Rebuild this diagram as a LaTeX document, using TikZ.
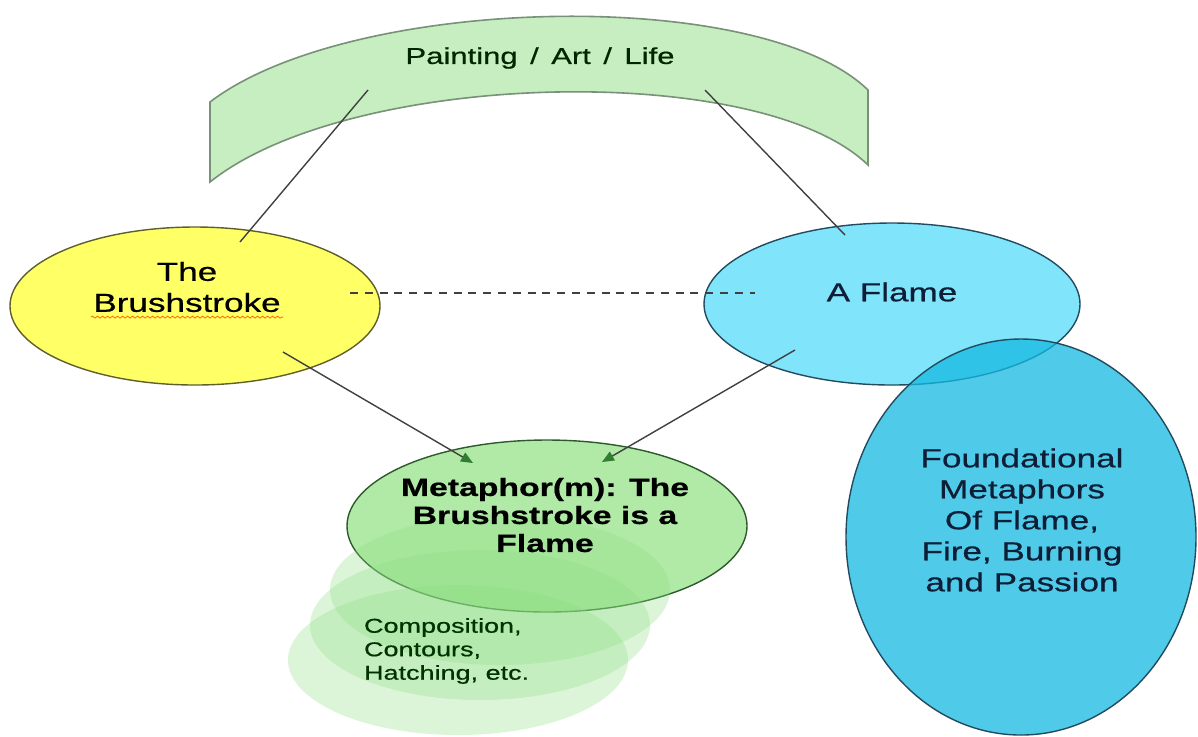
\documentclass[tikz,border=0pt]{standalone}
\usepackage{fontspec}
\setmainfont[FakeStretch=1.35,FakeBold=0.6]{Liberation Sans}
\usetikzlibrary{shapes.geometric,calc,positioning,arrows.meta,decorations.pathmorphing}

\definecolor{bandgreen}{RGB}{198,238,192}
\definecolor{bandedge}{RGB}{120,145,120}
\definecolor{brushyellow}{RGB}{255,255,102}
\definecolor{yellowedge}{RGB}{95,95,45}
\definecolor{flameblue}{RGB}{128,228,250}
\definecolor{deepblue}{RGB}{20,185,225}
\definecolor{blueedge}{RGB}{35,75,95}
\definecolor{metagreen}{RGB}{176,234,166}
\definecolor{fadegreen}{RGB}{140,222,130}
\definecolor{greenedge}{RGB}{45,90,45}
\definecolor{tipgreen}{RGB}{50,125,50}
\definecolor{navytext}{RGB}{15,30,55}

\begin{document}
\begin{tikzpicture}[x=0.5pt,y=-0.5pt,
    blob/.style={ellipse, draw, inner sep=0pt, line width=0.7pt},
    txt/.style={align=center, font=\fontsize{13}{15.5}\selectfont},
    link/.style={draw=black!75, line width=0.7pt},
    arr/.style={link, -{Triangle[length=6pt,width=5pt,color=tipgreen]}},
    dashlink/.style={draw=black!75, line width=1.4pt, dash pattern=on 4pt off 3.4pt}]
      \useasboundingbox (0,0) rectangle (1198,736);

      % Band on top
      \draw[fill=bandgreen, draw=bandedge, line width=0.8pt]
        (210,102) .. controls (350,-5) and (760,-15) .. (868,90)
        -- (868,165) .. controls (760,60) and (350,70) .. (210,182) -- cycle;
      \node[txt, font=\fontsize{11.5}{14}\selectfont, text=black!85!green] (band) at (540,58)
        {Painting\ \,/\ \,Art\ \,/\ \,Life};

      % Ellipses
      \node[blob, fill=brushyellow, draw=yellowedge, minimum width=185pt, minimum height=79pt] (brush) at (195,306) {};
      \node[blob, fill=flameblue, draw=blueedge, minimum width=188pt, minimum height=81pt] (flame) at (892,304) {};
      \node[blob, fill=deepblue, fill opacity=0.75, draw=blueedge, minimum width=175pt, minimum height=198pt] (found) at (1021,537) {};
      \node[blob, fill=metagreen, draw=greenedge, minimum width=200pt, minimum height=86pt] (meta) at (547,526) {};
      \foreach \i/\cx/\cy in {1/500/590, 2/480/625, 3/458/660} {
        \node[ellipse, fill=fadegreen, fill opacity=0.3, inner sep=0pt, minimum width=170pt, minimum height=75pt] (fade\i) at (\cx,\cy) {};
      }

      % Labels
      \node[txt] (brushtxt) at ($(brush)+(-8,-19)$) {The\\Brushstroke};
      \draw[orange!85!red, decorate, decoration={snake, amplitude=0.5pt, segment length=2.5pt}]
        ($(brushtxt.south)+(-96,-2)$) -- ($(brushtxt.south)+(96,-2)$);
      \node[txt, text=navytext] (flametxt) at ($(flame)+(0,-12)$) {A Flame};
      \node[txt, text=navytext] (foundtxt) at ($(found)+(1,-17)$)
        {Foundational\\Metaphors\\Of Flame,\\Fire, Burning\\and Passion};
      \node[txt, font=\bfseries\fontsize{12.5}{14}\selectfont] (metatxt) at ($(meta)+(-2,-11)$)
        {Metaphor(m): The\\Brushstroke is a\\Flame};
      \node[align=left, anchor=west, font=\fontsize{10}{11.75}\selectfont, text=black!80!green] (comptxt) at (357,651)
        {Composition,\\Contours,\\Hatching, etc.};

      % Line ends
      \coordinate (b1) at (240,242);
      \coordinate (b2) at (368,90);
      \coordinate (f1) at (845,235);
      \coordinate (f2) at (705,90);
      \coordinate (b3) at (283,352);
      \coordinate (f3) at (795,350);
      \coordinate (m1) at (473,463);
      \coordinate (m2) at (602,462);
      \coordinate (d1) at (350,293);
      \coordinate (d2) at (755,293);

      % Connectors
      \draw[link] (b1) -- (b2);
      \draw[link] (f1) -- (f2);
      \draw[arr] (b3) -- (m1);
      \draw[arr] (f3) -- (m2);
      \draw[dashlink] (d1) -- (d2);
\end{tikzpicture}
\end{document}
